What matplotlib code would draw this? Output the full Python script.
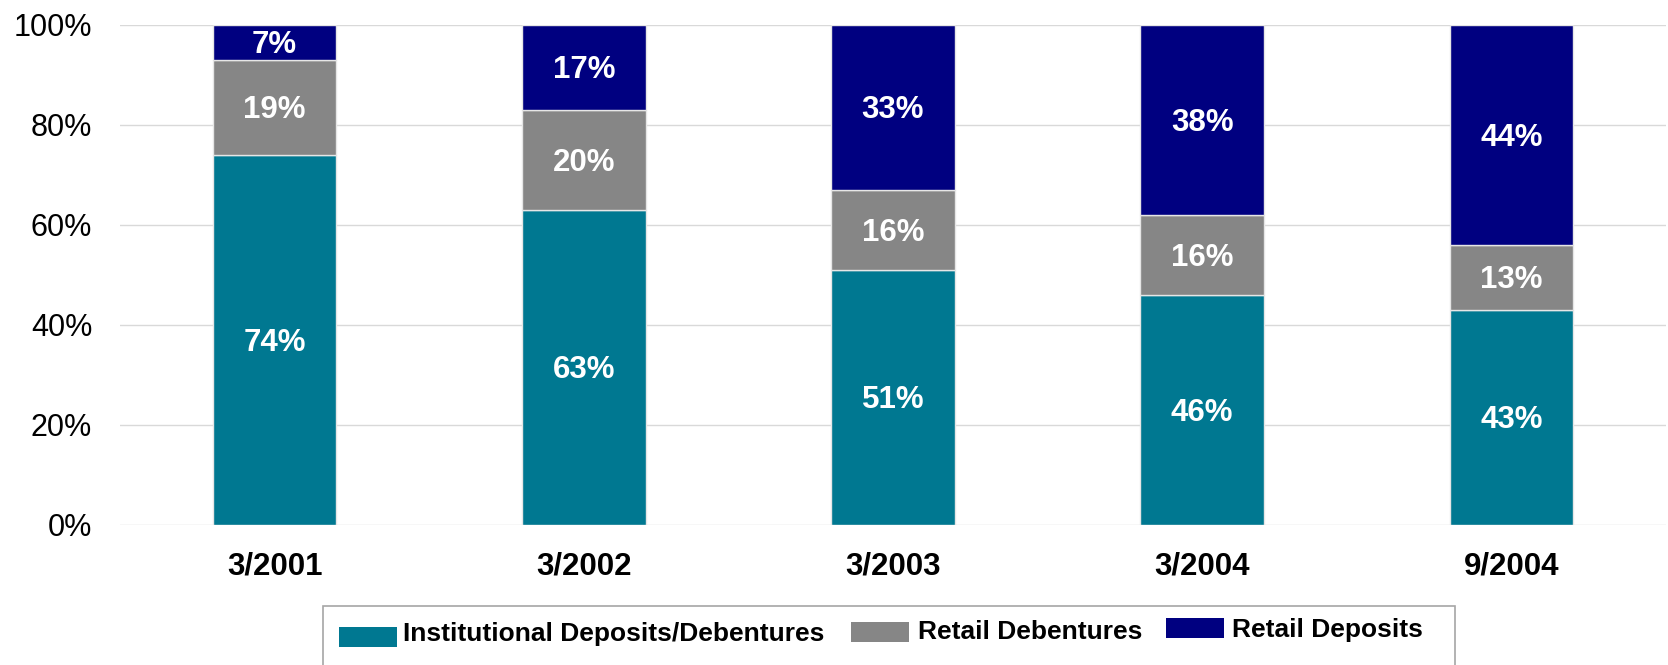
import matplotlib
matplotlib.use("Agg")
import matplotlib.pyplot as plt
from matplotlib.patches import Rectangle
import numpy as np

plt.rcParams['font.family'] = ['Liberation Sans', 'DejaVu Sans']

# Funding mix by period (% of total)
periods = ["3/2001", "3/2002", "3/2003", "3/2004", "9/2004"]
institutional = [74, 63, 51, 46, 43]
retail_debentures = [19, 20, 16, 16, 13]
retail_deposits = [7, 17, 33, 38, 44]
series_names = ["Institutional Deposits/Debentures", "Retail Debentures", "Retail Deposits"]
yticks = [0, 20, 40, 60, 80, 100]

colors = ["#007891", "#868686", "#000080"]

W, H = 1668, 665
fig = plt.figure(figsize=(W / 100, H / 100), dpi=100)
ax = fig.add_axes([120 / W, 1 - 525 / H, (1666 - 120) / W, 500 / H])

x = np.arange(len(periods))
bottom = np.zeros(len(periods))
for vals, col in zip([institutional, retail_debentures, retail_deposits], colors):
    vals = np.array(vals, dtype=float)
    bars = ax.bar(x, vals, width=0.4, bottom=bottom, color=col,
                  edgecolor="#e6e6e6", linewidth=1, zorder=3)
    ax.bar_label(bars, labels=[f"{int(v)}%" for v in vals], label_type="center",
                 padding=-2, color="white", fontsize=22.5, fontweight="bold")
    bottom += vals

ax.set_xlim(-0.5, len(periods) - 0.5)
ax.set_ylim(0, 100)
ax.set_yticks(yticks)
ax.set_yticklabels([f"{t}%" for t in yticks], fontsize=22)
ax.set_xticks(x)
ax.set_xticklabels(periods, fontsize=22.5, fontweight="bold")
ax.tick_params(axis="y", length=0, pad=20)
ax.tick_params(axis="x", length=0, pad=19)
ax.yaxis.grid(True, color="#d9d9d9", linewidth=1, zorder=0)
ax.set_axisbelow(True)
for s in ax.spines.values():
    s.set_visible(False)

# Legend box, running off the bottom edge of the figure
def fx(px):
    return px / W

def fy(py):
    return 1 - py / H

fig.patches.append(Rectangle((fx(323), fy(700)), fx(1455) - fx(323), fy(606) - fy(700),
                             transform=fig.transFigure, fill=False,
                             edgecolor="#a6a6a6", linewidth=1.2))

entries = [
    # patch left, patch right, patch top, patch bottom, text x, text baseline
    (339, 397, 627, 647, 403, 641),
    (851, 909, 622, 642, 918, 639),
    (1166, 1224, 618, 638, 1232, 637),
]
for name, col, (x0, x1, y0, y1, tx, ty) in zip(series_names, colors, entries):
    fig.patches.append(Rectangle((fx(x0), fy(y1)), fx(x1) - fx(x0), fy(y0) - fy(y1),
                                 transform=fig.transFigure, facecolor=col,
                                 edgecolor="none"))
    fig.text(fx(tx), fy(ty), name, fontsize=19, fontweight="bold",
             ha="left", va="baseline", color="black")

fig.savefig("out.png", dpi=100)
